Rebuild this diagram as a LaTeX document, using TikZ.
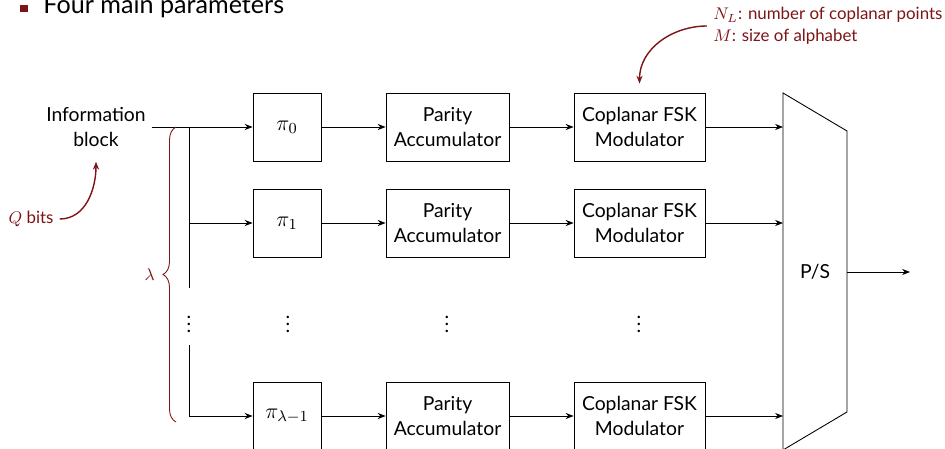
\RequirePackage{fix-cm}
\documentclass[tikz,border=0pt]{standalone}
\usepackage{amsmath,amssymb}
\usepackage{fontspec}
\setmainfont{Lato}
\usepackage{tikz}
\usetikzlibrary{arrows.meta,calc,decorations.pathreplacing}

\definecolor{darkred}{RGB}{125,20,22}

\tikzset{
  blockbox/.style={draw, minimum height=1.36cm, align=center, inner sep=2pt},
  permbox/.style={blockbox, minimum width=1.36cm, font=\fontsize{12.5pt}{14pt}\selectfont},
  annot/.style={darkred, font=\fontsize{9.6pt}{12.5pt}\selectfont},
}

\begin{document}
\begin{tikzpicture}[>={Stealth[length=4.5pt,width=3.5pt]}, line width=0.5pt,
  font=\fontsize{11pt}{14pt}\selectfont]
\useasboundingbox (0,0) rectangle (18.9,-8.98);

% title line, cut at the top
\fill[darkred] (0.40,-0.10) rectangle (0.56,-0.25);
\node[anchor=base west, inner sep=0pt, font=\fontsize{14.3pt}{17pt}\selectfont] (title) at (0.86,-0.27) {Four main parameters};

% source
\node[align=center] (info) at (1.92,-2.54) {Information\\block};
\node[annot] (qbits) at (0.62,-4.38) {$Q$ bits};

% branches
\node[permbox] (perm0) at (5.74,-2.54) {$\pi_0$};
\node[permbox] (perm1) at (5.74,-4.46) {$\pi_1$};
\node[permbox] (perm2) at (5.74,-8.32) {$\pi_{\lambda-1}$};

\node[blockbox, minimum width=2.46cm] (acc0) at (8.95,-2.54) {Parity\\Accumulator};
\node[blockbox, minimum width=2.46cm] (acc1) at (8.95,-4.46) {Parity\\Accumulator};
\node[blockbox, minimum width=2.46cm] (acc2) at (8.95,-8.32) {Parity\\Accumulator};

\node[blockbox, minimum width=2.62cm] (mod0) at (12.79,-2.54) {Coplanar FSK\\Modulator};
\node[blockbox, minimum width=2.62cm] (mod1) at (12.79,-4.46) {Coplanar FSK\\Modulator};
\node[blockbox, minimum width=2.62cm] (mod2) at (12.79,-8.32) {Coplanar FSK\\Modulator};

\node (dots0) at (3.78,-6.38) {$\vdots$};
\node (dots1) at (5.76,-6.38) {$\vdots$};
\node (dots2) at (8.94,-6.38) {$\vdots$};
\node (dots3) at (12.78,-6.38) {$\vdots$};

% parallel to serial
\coordinate (ps-tl) at (15.66,-1.86);
\coordinate (ps-tr) at (16.94,-2.62);
\coordinate (ps-br) at (16.94,-8.24);
\coordinate (ps-bl) at (15.66,-9.00);
\draw (ps-tl) -- (ps-tr) -- (ps-br) -- (ps-bl) -- cycle;
\node (ps) at (16.30,-5.44) {P/S};
\coordinate (out) at (18.20,-5.44);

\node[annot, anchor=west, align=left] (params) at (14.14,-0.52) {$N_L$: number of coplanar points\\$M$: size of alphabet};

% connections
\coordinate (split) at (3.78,-2.54);
\draw[->] (info.east) -- (perm0.west);
\draw (split) -- (3.78,-5.76);
\draw[->] (split |- perm1) -- (perm1.west);
\draw[->] (3.78,-6.90) |- (perm2.west);

\draw[->] (perm0) -- (acc0);
\draw[->] (perm1) -- (acc1);
\draw[->] (perm2) -- (acc2);
\draw[->] (acc0) -- (mod0);
\draw[->] (acc1) -- (mod1);
\draw[->] (acc2) -- (mod2);
\draw[->] (mod0) -- (mod0 -| ps-tl);
\draw[->] (mod1) -- (mod1 -| ps-tl);
\draw[->] (mod2) -- (mod2 -| ps-tl);
\draw[->] (ps -| ps-tr) -- (out);

% annotations
\draw[darkred, decorate, decoration={brace, amplitude=0.26cm}] (3.52,-8.44) -- (3.52,-2.54)
  node[midway, left=0.3cm, annot] (lambda) {$\lambda$};
\draw[->, darkred, thick] (qbits.east) to[out=0, in=-90] ([yshift=-0.18cm]info.south);
\draw[->, darkred, thick] (params.west) to[out=180, in=90] ([yshift=0.18cm]mod0.north);
\end{tikzpicture}
\end{document}
